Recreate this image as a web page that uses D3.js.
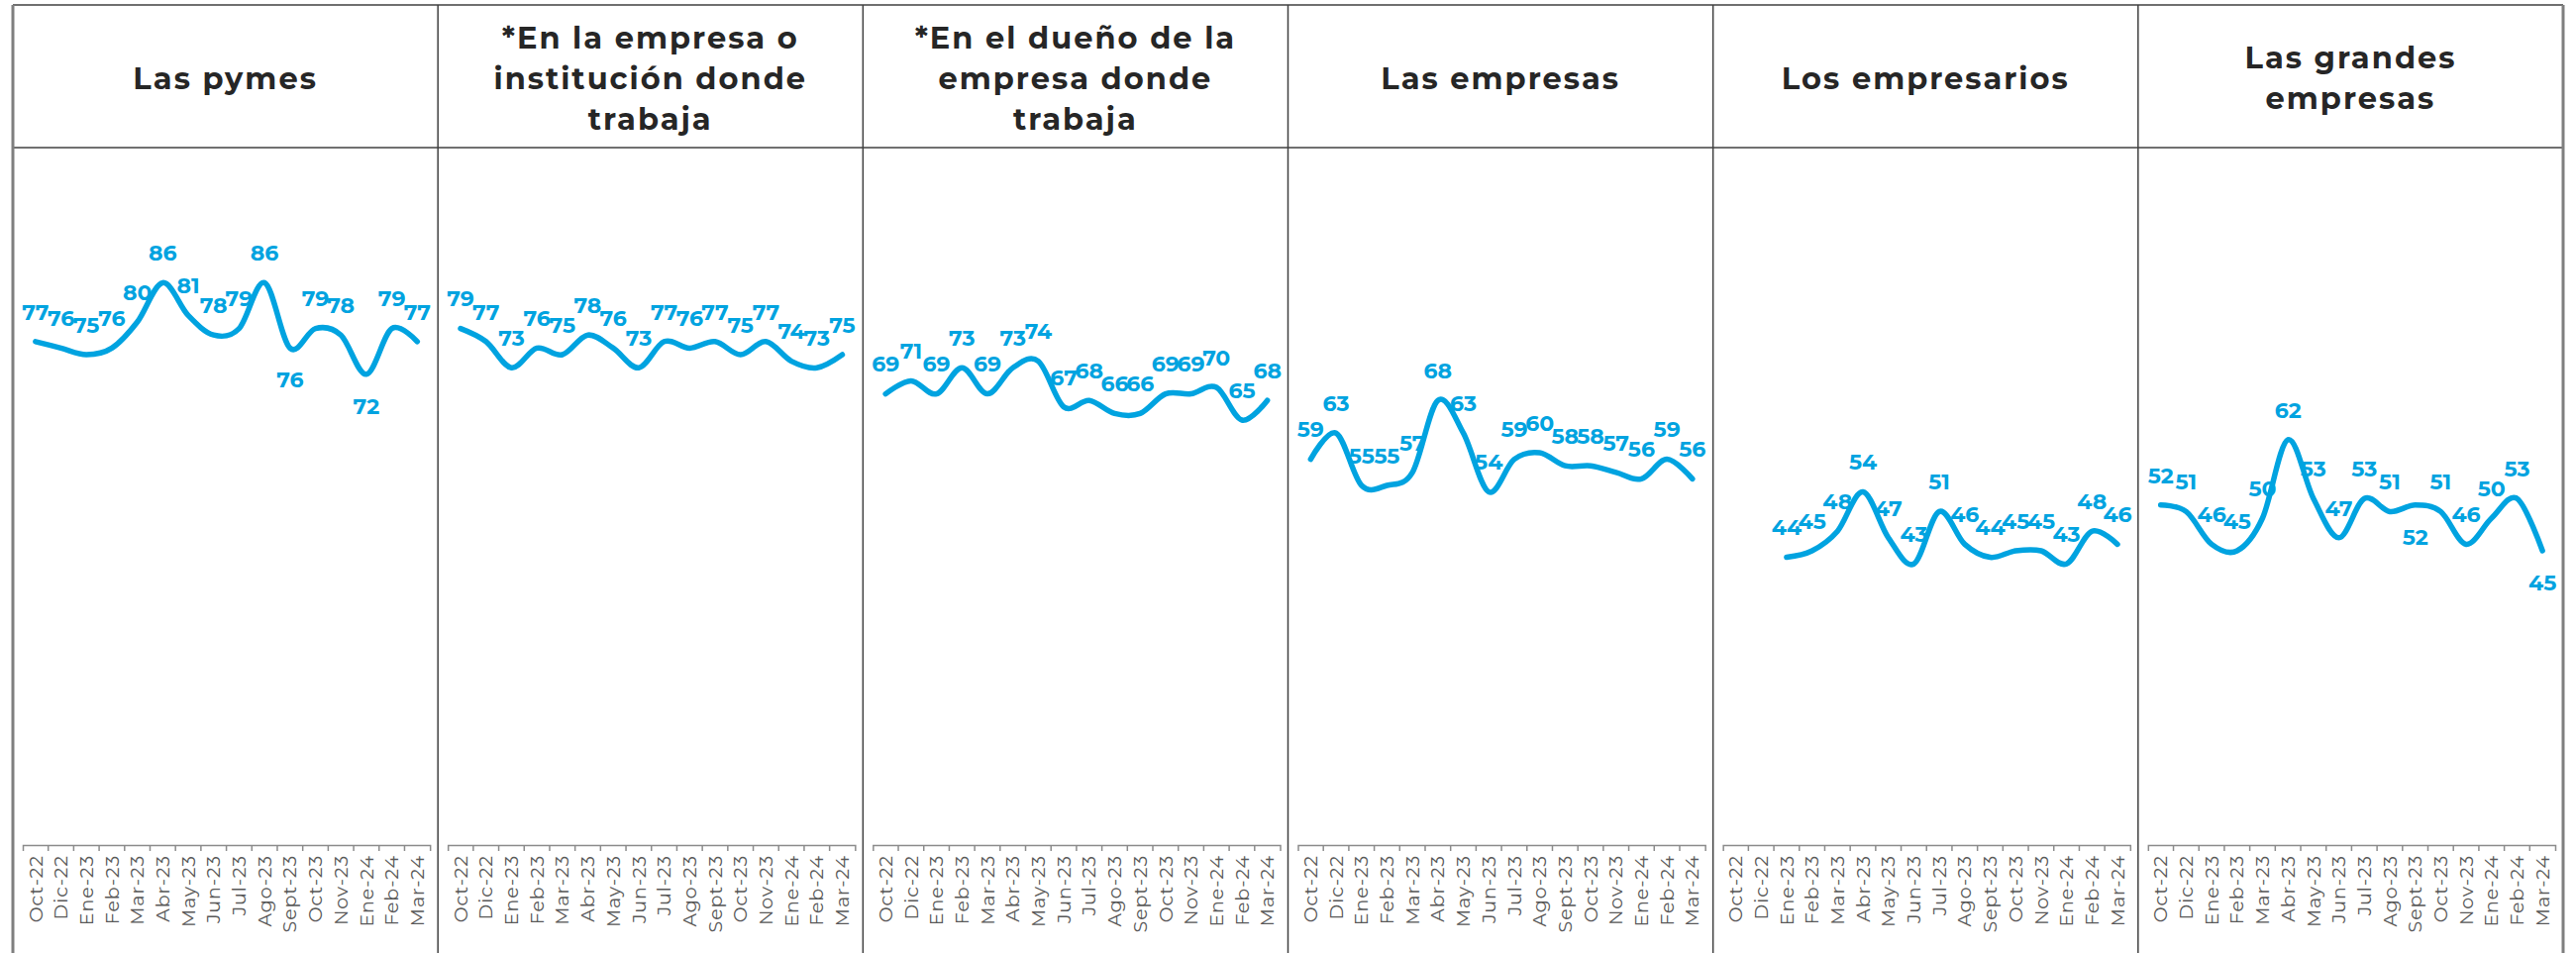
<!DOCTYPE html>
<html>
<head>
<meta charset="utf-8">
<script src="https://cdn.jsdelivr.net/npm/d3@7"></script>
<style>
  html, body { margin: 0; padding: 0; background: #fff; }
  svg { display: block; }
</style>
</head>
<body>
<div id="main"></div>
<script>
// categories shared by every panel
const months = ["Oct-22", "Dic-22", "Ene-23", "Feb-23", "Mar-23", "Abr-23", "May-23", "Jun-23",
    "Jul-23", "Ago-23", "Sept-23", "Oct-23", "Nov-23", "Ene-24", "Feb-24", "Mar-24"];

const titles = [
    ["Las pymes"],
    ["*En la empresa o", "institución donde", "trabaja"],
    ["*En el dueño de la", "empresa donde", "trabaja"],
    ["Las empresas"],
    ["Los empresarios"],
    ["Las grandes", "empresas"]
];

// series values, one per panel
const pymes = [77, 76, 75, 76, 80, 86, 81, 78, 79, 86, 76, 79, 78, 72, 79, 77];
const empresaTrabaja = [79, 77, 73, 76, 75, 78, 76, 73, 77, 76, 77, 75, 77, 74, 73, 75];
const duenoEmpresa = [69, 71, 69, 73, 69, 73, 74, 67, 68, 66, 66, 69, 69, 70, 65, 68];
const empresas = [59, 63, 55, 55, 57, 68, 63, 54, 59, 60, 58, 58, 57, 56, 59, 56];
const empresarios = [null, null, 44, 45, 48, 54, 47, 43, 51, 46, 44, 45, 45, 43, 48, 46];
const grandes = [52, 51, 46, 45, 50, 62, 53, 47, 53, 51, 52, 51, 46, 50, 53, 45];

const series = [pymes, empresaTrabaja, duenoEmpresa, empresas, empresarios, grandes];

// which labels sit under the line instead of over it
const labelsBelow = [[10, 13], [], [], [], [], [10, 15]];

const W = 2601, H = 962;
const frameLeft = 13, frameRight = 2588, frameTop = 5, headerBottom = 149;
const panelW = (frameRight - frameLeft) / series.length;
const axisY = 853;
const blue = "#00A3E0";

const svg = d3.select("#main").append("svg")
    .attr("width", W)
    .attr("height", H)
    .attr("viewBox", [0, 0, W, H].join(" "));

// y is shared: 0 at the axis line
const y = d3.scaleLinear().domain([0, 100]).range([axisY, axisY - 660]);

const line = d3.line()
    .defined(d => d.v != null)
    .curve(d3.curveCatmullRom.alpha(0))
    .x(d => d.x)
    .y(d => y(d.v));

series.forEach((values, p) => {
    const x0 = frameLeft + p * panelW;
    const x = d3.scaleBand().domain(months).range([x0 + 10, x0 + panelW - 8]);
    const g = svg.append("g");

    // title
    const t = titles[p];
    const lineH = 41;
    const cy = (frameTop + headerBottom) / 2 + 2;
    g.append("text")
        .attr("text-anchor", "middle")
        .attr("font-family", "Montserrat, 'Noto Sans', sans-serif")
        .attr("font-weight", 700)
        .attr("font-size", 30.5)
        .attr("letter-spacing", 2)
        .attr("fill", "#262626")
        .selectAll("tspan")
        .data(t)
        .join("tspan")
        .attr("x", x0 + panelW / 2)
        .attr("y", (d, i) => cy + (i - (t.length - 1) / 2) * lineH)
        .attr("dy", "0.35em")
        .text(d => d);

    // x axis, labels in the middle of each band
    const axis = g.append("g")
        .attr("transform", `translate(0,${axisY})`)
        .call(d3.axisBottom(x).tickSizeInner(0).tickSizeOuter(6).tickPadding(0));
    axis.select(".domain").attr("stroke", "#8c8c8c").attr("stroke-width", 1.5);
    axis.selectAll(".tick text")
        .attr("transform", "rotate(-90)")
        .attr("text-anchor", "end")
        .attr("x", -10)
        .attr("y", 0)
        .attr("dy", "0.35em")
        .attr("font-family", "Montserrat, 'Open Sans', sans-serif")
        .attr("font-size", 19)
        .attr("letter-spacing", 0.9)
        .attr("fill", "#595959");
    // tick marks between categories
    axis.selectAll(".between")
        .data(d3.range(1, months.length))
        .join("line")
        .attr("class", "between")
        .attr("x1", i => x.range()[0] + i * x.step())
        .attr("x2", i => x.range()[0] + i * x.step())
        .attr("y1", 0)
        .attr("y2", 6)
        .attr("stroke", "#8c8c8c")
        .attr("stroke-width", 1.5);

    const pts = values.map((v, i) => ({v, i, x: x(months[i]) + x.bandwidth() / 2}));

    g.append("path")
        .attr("d", line(pts))
        .attr("fill", "none")
        .attr("stroke", blue)
        .attr("stroke-width", 5.5)
        .attr("stroke-linecap", "round")
        .attr("stroke-linejoin", "round");

    g.append("g")
        .selectAll("text")
        .data(pts.filter(d => d.v != null))
        .join("text")
        .attr("x", d => d.x)
        .attr("y", d => y(d.v) + (labelsBelow[p].includes(d.i) ? 32 : -30))
        .attr("dy", "0.35em")
        .attr("text-anchor", "middle")
        .attr("font-family", "Montserrat, Inter, sans-serif")
        .attr("font-weight", 700)
        .attr("font-size", 22)
        .attr("fill", blue)
        .text(d => d.v);
});

// header frame and panel dividers
svg.append("line")
    .attr("x1", frameLeft).attr("x2", frameRight)
    .attr("y1", frameTop).attr("y2", frameTop)
    .attr("stroke", "#404040").attr("stroke-width", 1.5);
svg.append("line")
    .attr("x1", frameLeft).attr("x2", frameRight)
    .attr("y1", headerBottom).attr("y2", headerBottom)
    .attr("stroke", "#404040").attr("stroke-width", 1.5);
svg.append("g")
    .selectAll("line")
    .data(d3.range(series.length + 1))
    .join("line")
    .attr("x1", i => frameLeft + i * panelW)
    .attr("x2", i => frameLeft + i * panelW)
    .attr("y1", frameTop)
    .attr("y2", H)
    .attr("stroke", i => (i === 0 || i === series.length) ? "#7f7f7f" : "#404040")
    .attr("stroke-width", i => (i === 0 || i === series.length) ? 3 : 1.5);
</script>
</body>
</html>
